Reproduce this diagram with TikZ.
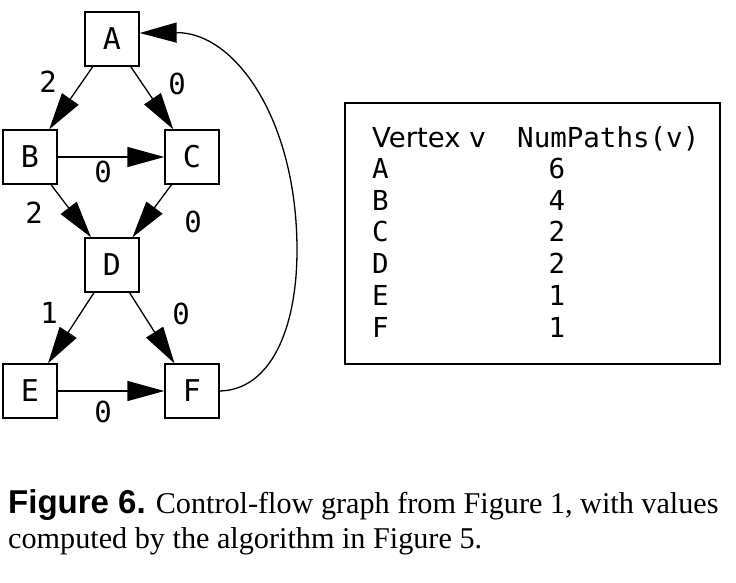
\documentclass[tikz,border=0pt]{standalone}
\usepackage{fontspec}
\setmainfont{Liberation Serif}
\newfontfamily\gvmono{DejaVu Sans Mono}
\newfontfamily\gvsans{DejaVu Sans}
\newfontfamily\capsans{Liberation Sans}
\usetikzlibrary{arrows.meta}
\tikzset{
  >={Triangle[length=37pt,width=20pt]},
  cfgnode/.style={draw=black,line width=1.3pt,minimum size=54pt,inner sep=0pt,
    font=\fontsize{30}{32}\gvmono},
  flow/.style={->,line width=1.3pt},
  flowlbl/.style={font=\fontsize{29}{30}\gvmono,inner sep=0pt},
  tblbox/.style={draw=black,line width=1.3pt},
  tbltxt/.style={font=\fontsize{27.5}{30}\gvmono,inner sep=0pt,anchor=base west},
  tblnum/.style={font=\fontsize{27.5}{30}\gvmono,inner sep=0pt,anchor=base},
  caplbl/.style={font=\fontsize{30.2}{35}\selectfont,inner sep=0pt,anchor=base west},
}
\begin{document}
\begin{tikzpicture}[x=1pt,y=-1pt]
  \useasboundingbox (0,0) rectangle (736,583);
  % control-flow graph
  \node[cfgnode] (A) at (112,39) {A};
  \node[cfgnode] (B) at (30,157) {B};
  \node[cfgnode] (C) at (192,157) {C};
  \node[cfgnode] (D) at (112,265) {D};
  \node[cfgnode] (E) at (30,391) {E};
  \node[cfgnode] (F) at (192,391) {F};
  \coordinate (Ain) at ([yshift=6pt]A.east);
  \coordinate (back) at (297,250);
  \draw[flow] (A) -- (B);
  \draw[flow] (A) -- (C);
  \draw[flow] (B) -- (C);
  \draw[flow] (B) -- (D);
  \draw[flow] (C) -- (D);
  \draw[flow] (D) -- (E);
  \draw[flow] (D) -- (F);
  \draw[flow] (E) -- (F);
  \draw[flow] (F.east) .. controls (270,390) and (297,330) .. (back)
    .. controls (297,120) and (235,32) .. (Ain);
  % edge values
  \node[flowlbl] (lAB) at (48,82) {2};
  \node[flowlbl] (lAC) at (177,84) {0};
  \node[flowlbl] (lBC) at (103,172) {0};
  \node[flowlbl] (lBD) at (34,213) {2};
  \node[flowlbl] (lCD) at (193,222) {0};
  \node[flowlbl] (lDE) at (49,313) {1};
  \node[flowlbl] (lDF) at (181,314) {0};
  \node[flowlbl] (lEF) at (103,412) {0};
  % table of path counts
  \draw[tblbox] (345,103) rectangle (720,364);
  \node[tbltxt,font=\fontsize{27.5}{30}\gvsans] (hdv) at (372,147) {Vertex v};
  \node[tbltxt] (hdn) at (517,147) {NumPaths(v)};
  \foreach \v/\n [count=\i] in {A/6,B/4,C/2,D/2,E/1,F/1} {
    \node[tbltxt] (row\i) at (372,{146.5+31.8*\i}) {\v};
    \node[tblnum] (val\i) at (557,{146.5+31.8*\i}) {\n};
  }
  % caption
  \node[caplbl] (cap1) at (8,513)
    {{\fontsize{33}{35}\capsans\bfseries Figure 6.} Control-flow graph from Figure 1, with values};
  \node[caplbl] (cap2) at (8,548) {computed by the algorithm in Figure 5.};
\end{tikzpicture}
\end{document}
